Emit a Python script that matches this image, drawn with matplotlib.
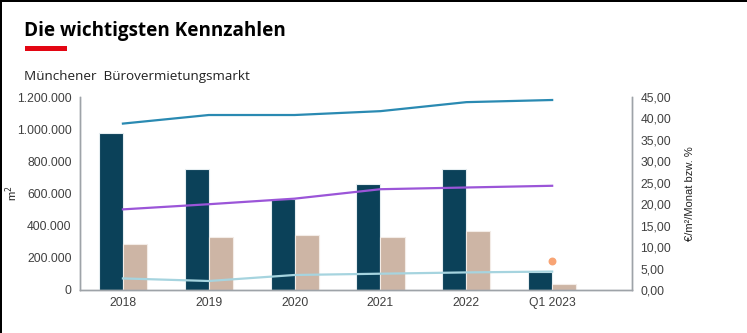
import matplotlib.pyplot as plt
import numpy as np
from matplotlib.ticker import FuncFormatter

years = ['2018', '2019', '2020', '2021', '2022', 'Q1 2023']
umsatz = [975000, 750000, 565000, 660000, 750000, 110000]
leerstand = [288000, 330000, 342000, 330000, 367000, 35000]
spitzenmiete = [38.8, 40.8, 40.8, 41.7, 43.8, 44.3]
durchschnittsmiete = [18.8, 20.0, 21.3, 23.5, 23.9, 24.3]
leerstandsquote = [2.7, 2.1, 3.5, 3.8, 4.1, 4.3]
quote_q1 = 6.8

plt.rcParams['font.family'] = ['Liberation Sans', 'DejaVu Sans']

fig = plt.figure(figsize=(7.47, 3.33), dpi=100)

# frame lines at the left and top edge
fig.add_artist(plt.Rectangle((0, 0), 2/747, 1, color='black', lw=0, transform=fig.transFigure))
fig.add_artist(plt.Rectangle((0, 1 - 1.5/333), 1, 1.5/333, color='black', lw=0, transform=fig.transFigure))

fig.text(24/747, 1 - 36/333, 'Die wichtigsten Kennzahlen', family='Open Sans', fontweight='bold',
         fontsize=13.6, color='black', va='baseline')
fig.add_artist(plt.Rectangle((25/747, 1 - 51/333), 42/747, 5/333, color='#E30613', lw=0, transform=fig.transFigure))
fig.text(24/747, 1 - 80/333, 'Münchener  Bürovermietungsmarkt', family='Open Sans',
         fontsize=9.7, color='#222222', va='baseline')

ax = fig.add_axes([80/747, 43/333, 552/747, 193/333])
ax2 = ax.twinx()

x = np.arange(len(years))
w = 0.28
ax.bar(x - w, umsatz, w, align='edge', color='#0B4159', edgecolor='#E6EEF1', linewidth=0.8, zorder=2)
ax.bar(x, leerstand, w, align='edge', color='#CDB5A5', edgecolor='#F3ECE7', linewidth=0.8, zorder=2)

ax2.plot(x, spitzenmiete, color='#2A8AB2', lw=1.6)
ax2.plot(x, durchschnittsmiete, color='#9B55D8', lw=1.6)
ax2.plot(x, leerstandsquote, color='#A6D4DF', lw=1.6)
ax2.scatter([x[-1]], [quote_q1], color='#F8A474', s=22, zorder=3)

ax.set_xlim(-0.5, 5.93)
ax.set_ylim(0, 1200000)
ax2.set_ylim(0, 45)
ax.set_yticks(np.arange(0, 1200001, 200000))
ax2.set_yticks(np.arange(0, 46, 5))
ax.yaxis.set_major_formatter(FuncFormatter(lambda v, p: '{:,.0f}'.format(v).replace(',', '.')))
ax2.yaxis.set_major_formatter(FuncFormatter(lambda v, p: '{:.2f}'.format(v).replace('.', ',')))
ax.set_xticks(x)
ax.set_xticklabels(years)

for a in (ax, ax2):
    a.spines['top'].set_visible(False)
    for s in ('left', 'right', 'bottom'):
        a.spines[s].set_color('#9EA3A8')
        a.spines[s].set_linewidth(1.0)
    a.tick_params(length=0, labelsize=8.7, colors='#404040', pad=6)
ax.tick_params(axis='x', pad=5)

ax.set_ylabel('m$^2$', fontsize=8, color='#222222')
ax.yaxis.set_label_coords(-60/552, 0.5)
ax2.set_ylabel('€/m²/Monat bzw. %', fontsize=8, color='#222222', labelpad=10)

fig.savefig('out.png', dpi=100)
